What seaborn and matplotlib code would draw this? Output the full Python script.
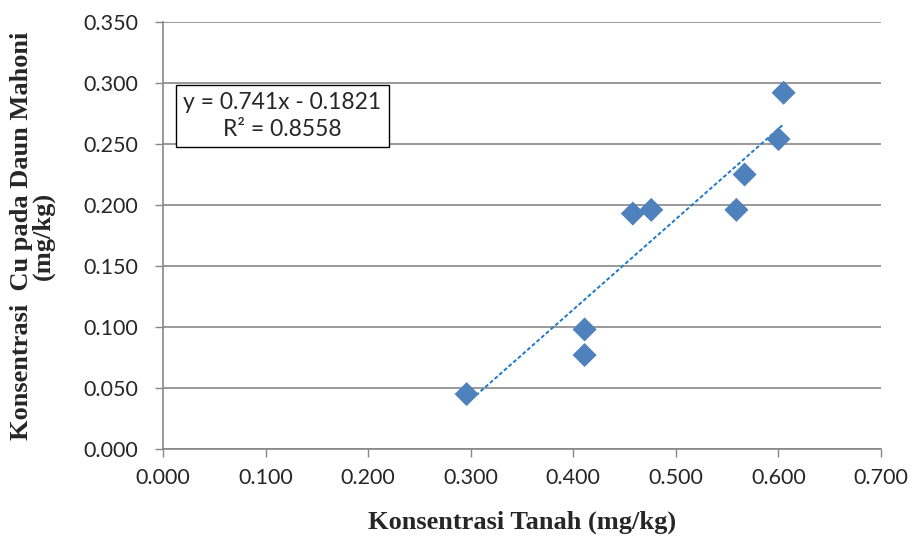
import pandas as pd
import seaborn as sns
import numpy as np
import matplotlib.pyplot as plt

# soil vs leaf Cu concentration (mg/kg)
tanah = [0.296, 0.411, 0.411, 0.458, 0.476, 0.559, 0.567, 0.600, 0.605]
daun = [0.045, 0.098, 0.077, 0.193, 0.196, 0.196, 0.225, 0.254, 0.292]
# trendline as printed on the chart
slope = 0.741
intercept = -0.1821
eq_text = "y = 0.741x - 0.1821\nR² = 0.8558"

df = pd.DataFrame({'Tanah': tanah, 'Daun': daun})
x_fit = np.array([min(tanah), max(tanah)])
fit = pd.DataFrame({'x': x_fit, 'y': slope * x_fit + intercept})

sns.set_style('white')
plt.rcParams['font.family'] = ['Lato', 'DejaVu Sans']

fig = plt.figure(figsize=(9.13, 5.36), dpi=100)
ax = fig.add_axes([0.1785, 0.1623, 0.965 - 0.1785, 0.959 - 0.1623])

sns.lineplot(x='x', y='y', data=fit, ax=ax, color='#1f78c8',
             linestyle=(0, (2, 1.2)), linewidth=1.4)
sns.scatterplot(x='Tanah', y='Daun', data=df, marker='D', s=150, color='#4f81bd',
                edgecolor='none', ax=ax, zorder=3)

ax.set_xlim(0, 0.7)
ax.set_ylim(0, 0.35)
ax.set_xticks(np.arange(0, 0.71, 0.1))
ax.set_yticks(np.arange(0, 0.351, 0.05))
ax.xaxis.set_major_formatter(plt.FormatStrFormatter('%.3f'))
ax.yaxis.set_major_formatter(plt.FormatStrFormatter('%.3f'))
ax.tick_params(axis='both', labelsize=15.5, length=6, width=1, color='#888888',
               direction='out', left=True, bottom=True, pad=8)
ax.tick_params(axis='y', pad=12)

ax.yaxis.grid(True, color='#888888', linewidth=1.2)
ax.set_axisbelow(True)
for s in ['top', 'right']:
    ax.spines[s].set_visible(False)
for s in ['left', 'bottom']:
    ax.spines[s].set_color('#888888')
    ax.spines[s].set_linewidth(1.2)

ax.set_xlabel('Konsentrasi Tanah (mg/kg)', family='Liberation Serif', fontweight='bold',
              fontsize=19, labelpad=16)
ax.set_ylabel('Konsentrasi  Cu pada Daun Mahoni\n(mg/kg)', family='Liberation Serif',
              fontweight='bold', fontsize=19, labelpad=20, linespacing=0.95)

ax.text(0.166, 0.78, eq_text, transform=ax.transAxes, ha='center', va='center',
        fontsize=16.5, linespacing=1.35,
        bbox=dict(boxstyle='square,pad=0.32', facecolor='white', edgecolor='black', linewidth=1))

fig.savefig('out.png', dpi=100)
